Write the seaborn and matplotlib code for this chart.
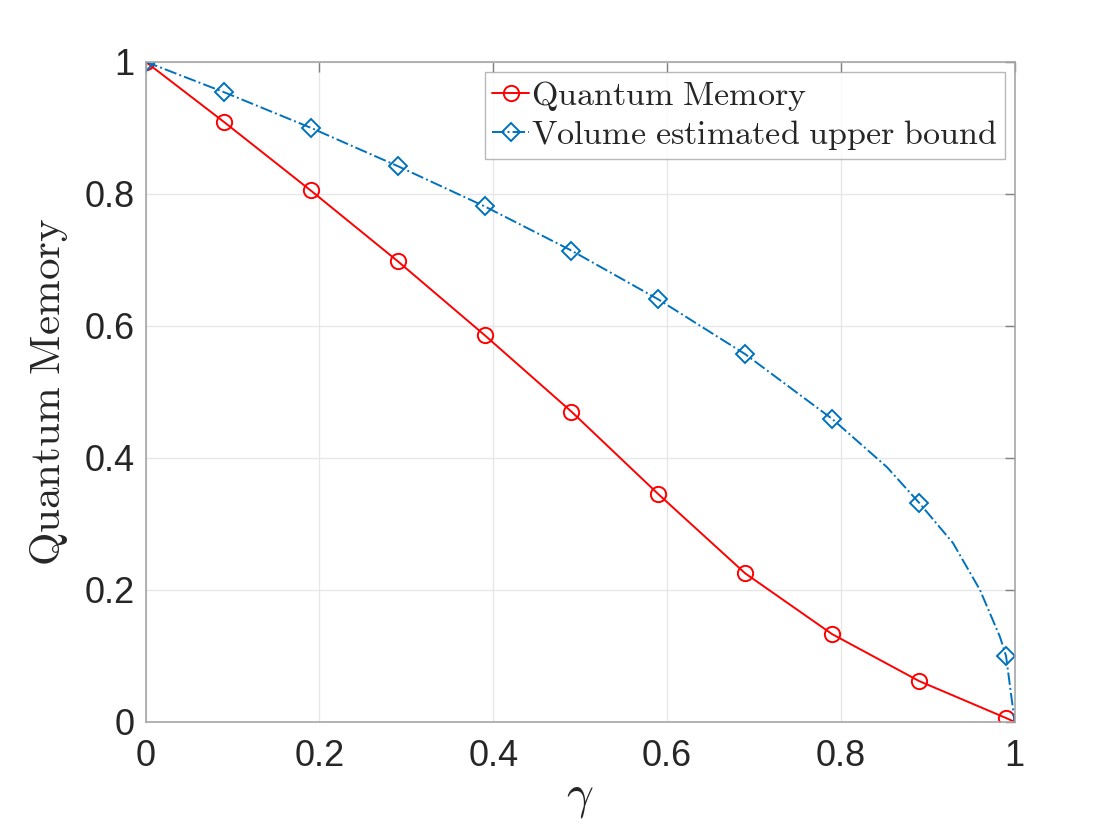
import matplotlib
matplotlib.use('Agg')
import matplotlib.pyplot as plt
import seaborn as sns

# --- DATA ---
gamma_qm = [0.0, 0.09, 0.19, 0.29, 0.39, 0.49, 0.59, 0.69, 0.79, 0.89, 0.99, 1.0]
quantum_memory = [1.0, 0.909, 0.805, 0.698, 0.586, 0.470, 0.345, 0.225, 0.133, 0.062, 0.006, 0.0]

gamma_ub = [0.0, 0.09, 0.19, 0.29, 0.39, 0.49, 0.59, 0.69, 0.79, 0.853, 0.89, 0.929, 0.96, 0.983, 0.99, 1.0]
upper_bound = [1.0, 0.954, 0.900, 0.842, 0.781, 0.714, 0.640, 0.557, 0.459, 0.386, 0.332, 0.271, 0.200, 0.129, 0.100, 0.0]
ub_marker_idx = [0, 1, 2, 3, 4, 5, 6, 7, 8, 10, 14]

x_ticks = [0, 0.2, 0.4, 0.6, 0.8, 1]
y_ticks = [0, 0.2, 0.4, 0.6, 0.8, 1]
tick_labels = ['0', '0.2', '0.4', '0.6', '0.8', '1']

# --- STYLE ---
sns.set_style("white")
plt.rcParams['font.family'] = ['Liberation Sans', 'DejaVu Sans']
plt.rcParams['mathtext.fontset'] = 'cm'

fig = plt.figure(figsize=(11.2, 8.4), dpi=100)
ax = fig.add_axes([0.130, 0.1405, 0.776, 0.786])

red = '#FF0000'
blue = '#0072BD'

sns.lineplot(x=gamma_qm, y=quantum_memory, ax=ax, color=red, linewidth=1.4,
             marker='o', markersize=11, markerfacecolor='none', markeredgecolor=red,
             markeredgewidth=1.4, markevery=list(range(11)), sort=False,
             errorbar=None, label=r'$\mathrm{Quantum\ Memory}$')
sns.lineplot(x=gamma_ub, y=upper_bound, ax=ax, color=blue, linewidth=1.4, linestyle='-.',
             marker='D', markersize=9.5, markerfacecolor='none', markeredgecolor=blue,
             markeredgewidth=1.4, markevery=ub_marker_idx, sort=False,
             errorbar=None, label=r'$\mathrm{Volume\ estimated\ upper\ bound}$')

ax.set_xlim(0, 1)
ax.set_ylim(0, 1)
ax.set_xticks(x_ticks)
ax.set_xticklabels(tick_labels)
ax.set_yticks(y_ticks)
ax.set_yticklabels(tick_labels)

ax.grid(True, color='#E6E6E6', linewidth=0.9)
ax.set_axisbelow(True)
for side in ax.spines.values():
    side.set_visible(True)
    side.set_color('#A6A6A6')
    side.set_linewidth(1.2)

ax.tick_params(direction='in', length=7, width=1.0, color='#808080',
               labelsize=26, labelcolor='#262626', top=True, right=True,
               labeltop=False, labelright=False)
ax.tick_params(axis='x', pad=12)
ax.tick_params(axis='y', pad=8)

ax.set_xlabel(r'$\gamma$', fontsize=34, labelpad=2)
ax.set_ylabel(r'$\mathrm{Quantum\ Memory}$', fontsize=31, labelpad=10)

leg = ax.legend(loc='upper right', fontsize=24.5, frameon=True, fancybox=False,
                edgecolor='#A6A6A6', borderaxespad=0.3, handlelength=1.1,
                handletextpad=0.05, borderpad=0.2, labelspacing=0.15)
leg.get_frame().set_linewidth(1.0)

plt.savefig("out.png", dpi=100)
